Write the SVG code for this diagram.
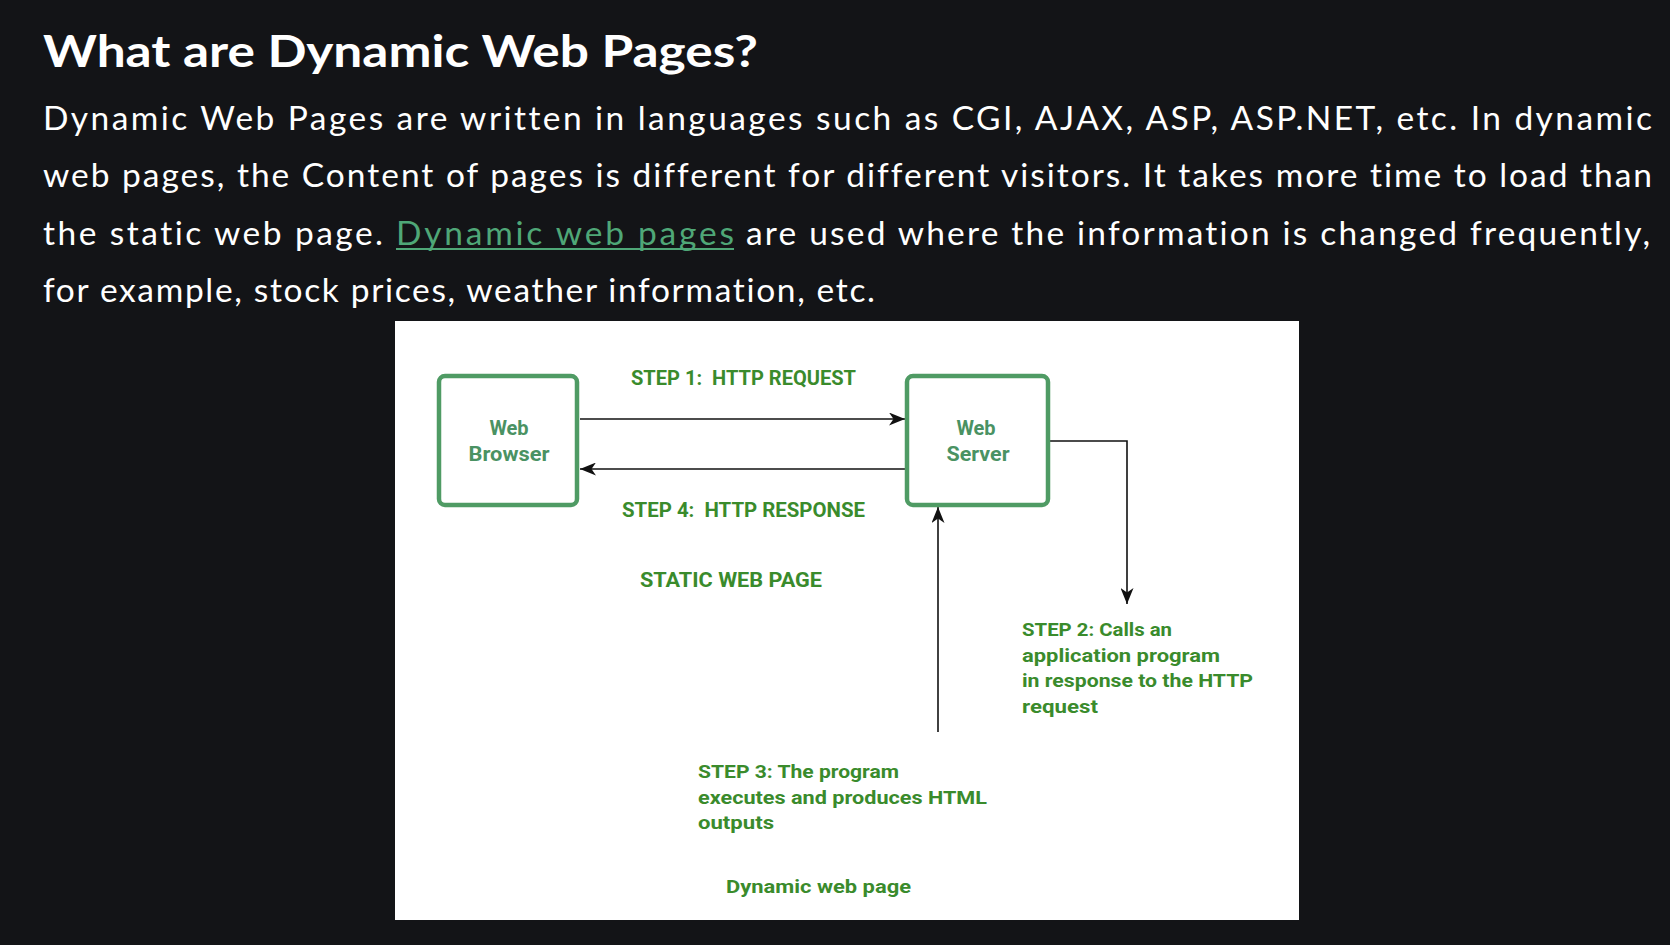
<svg xmlns="http://www.w3.org/2000/svg" width="1670" height="945" viewBox="0 0 1670 945">
  <style>
    .h { font-family: Lato, "Noto Sans", sans-serif; font-weight: 700; font-size: 44px; fill: #ffffff; }
    .p { font-family: Lato, "Noto Sans", sans-serif; font-weight: 400; font-size: 33.5px; fill: #ffffff; font-variant-ligatures: none; }
    .lnk { fill: #4fa777; }
    .box { fill: #ffffff; stroke: #4f9b64; stroke-width: 4.5; }
    .bl { font-family: Roboto, "Liberation Sans", sans-serif; font-weight: 700; font-size: 20px; fill: #4a9263; text-anchor: middle; }
    .st { font-family: Roboto, "Liberation Sans", sans-serif; font-weight: 700; font-size: 21px; fill: #3a8b2c; }
    .sm { font-family: Roboto, "Liberation Sans", sans-serif; font-weight: 700; font-size: 18.5px; fill: #3a8b2c; }
    .con { fill: none; stroke: #111111; stroke-width: 1.6; }
  </style>
  <defs>
    <marker id="ah" viewBox="0 0 16 13" refX="16" refY="6.5" markerWidth="16" markerHeight="13" markerUnits="userSpaceOnUse" orient="auto">
      <path d="M0,0 L16,6.5 L0,13 L4.5,6.5 z" fill="#111111"/>
    </marker>
  </defs>
  <rect x="0" y="0" width="1670" height="945" fill="#131417"/>

  <g id="article-text">
    <text class="h" x="43" y="67" textLength="715" lengthAdjust="spacingAndGlyphs">What are Dynamic Web Pages?</text>
    <text class="p" x="43" y="130" textLength="1609" lengthAdjust="spacing">Dynamic Web Pages are written in languages such as CGI, AJAX, ASP, ASP.NET, etc. In dynamic</text>
    <text class="p" x="43" y="187" textLength="1609" lengthAdjust="spacing">web pages, the Content of pages is different for different visitors. It takes more time to load than</text>
    <text class="p" x="43" y="245" textLength="340" lengthAdjust="spacing">the static web page.</text>
    <text class="p lnk" x="396" y="245" textLength="338" lengthAdjust="spacing">Dynamic web pages</text>
    <line x1="396" y1="249" x2="734" y2="249" stroke="#4fa777" stroke-width="2"/>
    <text class="p" x="746" y="245" textLength="904" lengthAdjust="spacing">are used where the information is changed frequently,</text>
    <text class="p" x="43" y="302" textLength="832" lengthAdjust="spacing">for example, stock prices, weather information, etc.</text>
  </g>

  <rect x="395" y="321" width="904" height="599" fill="#ffffff"/>

  <g id="connectors">
    <line class="con" x1="580" y1="419" x2="905" y2="419" marker-end="url(#ah)"/>
    <line class="con" x1="905" y1="469" x2="580" y2="469" marker-end="url(#ah)"/>
    <path class="con" d="M1050,441 H1127 V604" marker-end="url(#ah)"/>
    <line class="con" x1="938" y1="732" x2="938" y2="507" marker-end="url(#ah)"/>
  </g>

  <g id="web-browser">
    <rect class="box" x="439" y="376" width="138" height="129" rx="6"/>
    <text class="bl" x="509" y="435">Web</text>
    <text class="bl" x="509" y="461" textLength="81" lengthAdjust="spacingAndGlyphs">Browser</text>
  </g>

  <g id="web-server">
    <rect class="box" x="907" y="376" width="141" height="129" rx="6"/>
    <text class="bl" x="976" y="435">Web</text>
    <text class="bl" x="978" y="461" textLength="63" lengthAdjust="spacingAndGlyphs">Server</text>
  </g>

  <g id="labels">
    <text class="st" x="631" y="385" textLength="225" lengthAdjust="spacingAndGlyphs" xml:space="preserve">STEP 1:  HTTP REQUEST</text>
    <text class="st" x="622" y="517" textLength="243" lengthAdjust="spacingAndGlyphs" xml:space="preserve">STEP 4:  HTTP RESPONSE</text>
    <text class="st" x="640" y="587" textLength="182" lengthAdjust="spacingAndGlyphs">STATIC WEB PAGE</text>

    <text class="sm" x="1022" y="636" textLength="150" lengthAdjust="spacingAndGlyphs">STEP 2: Calls an</text>
    <text class="sm" x="1022" y="661.5" textLength="198" lengthAdjust="spacingAndGlyphs">application program</text>
    <text class="sm" x="1022" y="687" textLength="231" lengthAdjust="spacingAndGlyphs">in response to the HTTP</text>
    <text class="sm" x="1022" y="712.5" textLength="76" lengthAdjust="spacingAndGlyphs">request</text>

    <text class="sm" x="698" y="778" textLength="201" lengthAdjust="spacingAndGlyphs">STEP 3: The program</text>
    <text class="sm" x="698" y="803.5" textLength="289" lengthAdjust="spacingAndGlyphs">executes and produces HTML</text>
    <text class="sm" x="698" y="829" textLength="76" lengthAdjust="spacingAndGlyphs">outputs</text>

    <text class="sm" x="726" y="893" textLength="185" lengthAdjust="spacingAndGlyphs">Dynamic web page</text>
  </g>
</svg>
